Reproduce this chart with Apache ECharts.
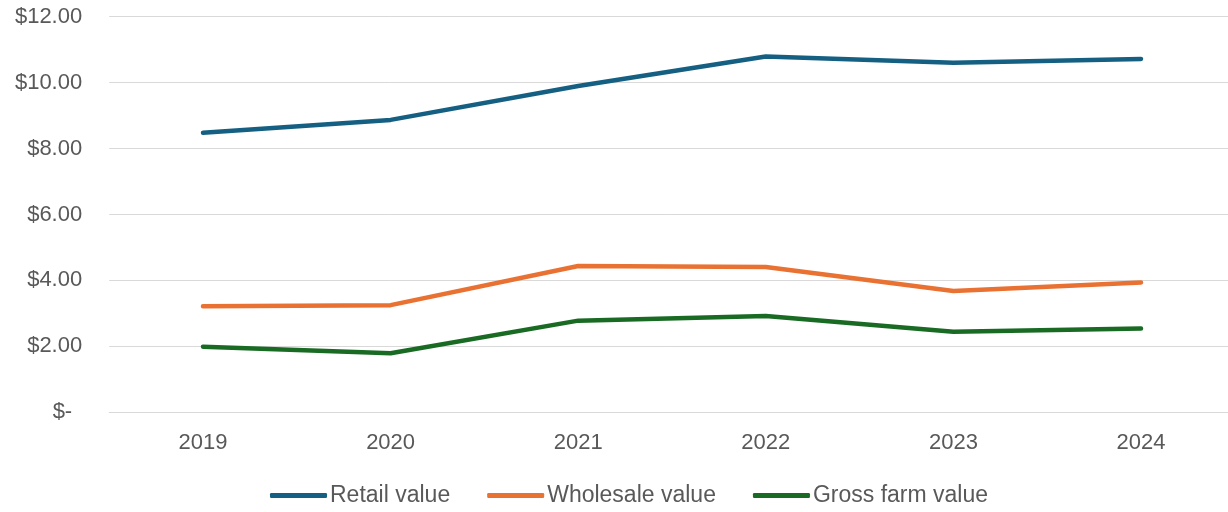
<!DOCTYPE html>
<html><head><meta charset="utf-8">
<script src="https://cdn.jsdelivr.net/npm/echarts@6/dist/echarts.min.js"></script>
<style>html,body{margin:0;padding:0;background:#fff}#c{width:1228px;height:512px}</style>
</head><body><div id="c"></div>
<script>
const years = ['2019','2020','2021','2022','2023','2024'];
const retail = [8.48, 8.87, 9.90, 10.79, 10.60, 10.72];
const wholesale = [3.22, 3.25, 4.44, 4.41, 3.68, 3.94];
const grossFarm = [1.99, 1.79, 2.78, 2.92, 2.44, 2.54];
const seriesNames = ['Retail value', 'Wholesale value', 'Gross farm value'];
const colors = ['#156082', '#E97132', '#196B24'];

const FONT = 'Liberation Sans';
const chart = echarts.init(document.getElementById('c'), null, {renderer: 'canvas'});
const mk = (name, data, color) => ({
  name, type: 'line', data, symbol: 'none', smooth: false,
  lineStyle: {color, width: 4.5, cap: 'round', join: 'round'},
  itemStyle: {color}
});
chart.setOption({
  animation: false,
  grid: {left: 109.2, width: 1125.6, top: 16.7, bottom: 99.7, containLabel: false, outerBoundsMode: 'none'},
  legend: {
    left: 265, top: 479, itemWidth: 57, itemHeight: 5, itemGap: 37,
    icon: 'roundRect',
    textStyle: {color: '#595959', fontSize: 23, fontFamily: FONT, padding: [0,0,0,-2]},
    data: seriesNames
  },
  xAxis: {
    type: 'category', data: years, boundaryGap: true,
    axisLine: {show: true, lineStyle: {color: '#D9D9D9', width: 1}},
    axisTick: {show: false},
    axisLabel: {color: '#595959', fontSize: 22, fontFamily: FONT, margin: 20}
  },
  yAxis: {
    type: 'value', min: 0, max: 12, interval: 2,
    axisLine: {show: false}, axisTick: {show: false},
    splitLine: {lineStyle: {color: '#D9D9D9', width: 1}},
    axisLabel: {
      color: '#595959', fontSize: 22, fontFamily: FONT, margin: 27,
      formatter: v => v === 0 ? '{z|$-}' : '$' + v.toFixed(2),
      rich: {z: {color: '#595959', fontSize: 22, fontFamily: FONT, padding: [0, 10, 0, 0]}}
    }
  },
  series: [
    mk(seriesNames[0], retail, colors[0]),
    mk(seriesNames[1], wholesale, colors[1]),
    mk(seriesNames[2], grossFarm, colors[2])
  ]
});
</script></body></html>
